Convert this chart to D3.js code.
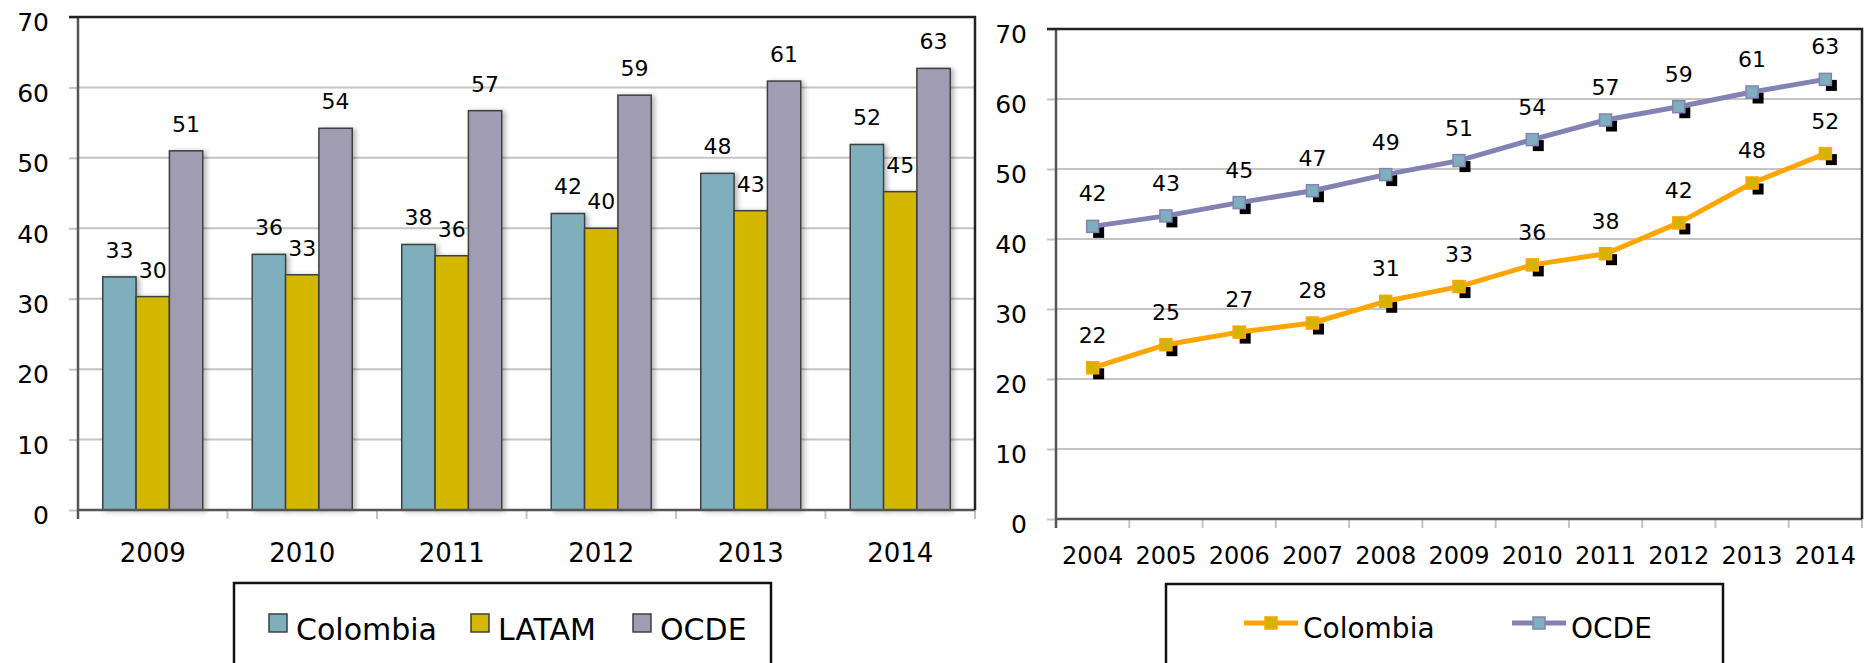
<!DOCTYPE html>
<html><head><meta charset="utf-8">
<script src="https://cdn.jsdelivr.net/npm/d3@7"></script>
<style>
html,body{margin:0;padding:0;background:#fff;}
svg{display:block;font-family:"DejaVu Sans",sans-serif;}
</style></head>
<body>
<svg id="chart" width="1868" height="663"></svg>
<script>
// ---- data ----
const barYears = ["2009","2010","2011","2012","2013","2014"];
const barSeries = ["Colombia","LATAM","OCDE"];
const barColombia = [33.1, 36.3, 37.7, 42.1, 47.8, 51.9];
const barLatam    = [30.3, 33.4, 36.1, 40.0, 42.5, 45.2];
const barOcde     = [51.0, 54.2, 56.7, 58.9, 60.9, 62.7];

const lineYears = ["2004","2005","2006","2007","2008","2009","2010","2011","2012","2013","2014"];
const lineSeries = ["Colombia","OCDE"];
const lineColombia = [21.6, 24.9, 26.7, 28.0, 31.1, 33.2, 36.3, 37.9, 42.3, 48.0, 52.2];
const lineOcde     = [41.8, 43.3, 45.2, 46.9, 49.2, 51.2, 54.2, 57.0, 58.9, 61.0, 62.8];

const yTicks = [0,10,20,30,40,50,60,70];

// ---- styles ----
const barColors = {Colombia:"#7FAFBD", LATAM:"#D4B800", OCDE:"#A09CB2"};
const lineColors = {Colombia:"#FFA500", OCDE:"#8383B3"};
const markerFill = {Colombia:"#D4B400", OCDE:"#7FAFBD"};
const gridColor = "#C4C4C4";

const svg = d3.select("#chart");
const defs = svg.append("defs");
const f = defs.append("filter").attr("id","shadow").attr("x","-20%").attr("y","-5%").attr("width","150%").attr("height","115%");
f.append("feDropShadow").attr("dx",3).attr("dy",1).attr("stdDeviation",2.5).attr("flood-color","#000").attr("flood-opacity",0.28);

// ================= LEFT: grouped bars =================
{
  const L = {x0:78, x1:975, y0:17, y1:510};
  const y = d3.scaleLinear().domain([0,70]).range([L.y1, L.y0]);
  const x0 = d3.scaleBand().domain(barYears).range([L.x0, L.x1]);
  const bw = x0.bandwidth();
  const groupW = 100;
  const x1 = d3.scaleBand().domain(barSeries).range([(bw-groupW)/2, (bw+groupW)/2]);
  const g = svg.append("g");

  g.append("g").selectAll("line").data(yTicks.filter(t=>t>0 && t<70)).join("line")
    .attr("x1",L.x0).attr("x2",L.x1).attr("y1",d=>y(d)).attr("y2",d=>y(d))
    .attr("stroke",gridColor).attr("stroke-width",2);

  const ya = g.append("g").attr("transform",`translate(${L.x0},0)`)
    .call(d3.axisLeft(y).tickValues(yTicks).tickSize(9).tickPadding(20).tickFormat(d3.format("d")));
  ya.select(".domain").remove();
  ya.selectAll(".tick line").attr("stroke",gridColor).attr("stroke-width",2);
  ya.selectAll(".tick text").attr("font-size",25).attr("fill","#000").attr("font-family","DejaVu Sans").attr("dy","0.55em");

  const xa = g.append("g").attr("transform",`translate(0,${L.y1})`)
    .call(d3.axisBottom(x0).tickSize(0).tickPadding(34));
  xa.select(".domain").remove();
  xa.selectAll(".tick text").attr("font-size",26).attr("fill","#000").attr("font-family","DejaVu Sans");
  g.append("g").selectAll("line").data(barYears.concat(["end"])).join("line")
    .attr("x1",(d,i)=>L.x0+i*bw).attr("x2",(d,i)=>L.x0+i*bw)
    .attr("y1",L.y1).attr("y2",L.y1+9).attr("stroke",gridColor).attr("stroke-width",2);

  const rows = barYears.map((yr,i)=>({year:yr, vals:[
    {s:"Colombia", v:barColombia[i]},{s:"LATAM", v:barLatam[i]},{s:"OCDE", v:barOcde[i]}]}));
  const grp = g.append("g").selectAll("g").data(rows).join("g")
    .attr("transform",d=>`translate(${x0(d.year)},0)`);
  grp.selectAll("rect").data(d=>d.vals).join("rect")
    .attr("x",d=>x1(d.s)).attr("width",x1.bandwidth())
    .attr("y",d=>y(d.v)).attr("height",d=>y(0)-y(d.v))
    .attr("fill",d=>barColors[d.s]).attr("stroke","#3a4040").attr("stroke-width",1.5)
    .attr("filter","url(#shadow)");
  grp.selectAll("text").data(d=>d.vals).join("text")
    .attr("x",d=>x1(d.s)+x1.bandwidth()/2).attr("y",d=>y(d.v)-19)
    .attr("text-anchor","middle").attr("font-size",22).attr("fill","#000")
    .text(d=>Math.round(d.v));

  g.append("line").attr("x1",L.x0).attr("x2",L.x0).attr("y1",L.y0).attr("y2",L.y1+9).attr("stroke","#555").attr("stroke-width",2.5);
  g.append("line").attr("x1",L.x0).attr("x2",L.x1).attr("y1",L.y1).attr("y2",L.y1).attr("stroke","#555").attr("stroke-width",2.5);
  g.append("path").attr("d",`M${L.x0-9},${L.y0}H${L.x1}V${L.y1}`).attr("fill","none").attr("stroke","#222").attr("stroke-width",2.5);

  const lg = g.append("g");
  lg.append("rect").attr("x",234).attr("y",583).attr("width",537).attr("height",90)
    .attr("fill","#fff").attr("stroke","#111").attr("stroke-width",2.5);
  const legX = {Colombia:269, LATAM:471, OCDE:633};
  barSeries.forEach(s=>{
    lg.append("rect").attr("x",legX[s]).attr("y",614).attr("width",18).attr("height",18)
      .attr("fill",barColors[s]).attr("stroke","#3a4040").attr("stroke-width",1.5);
    lg.append("text").attr("x",legX[s]+27).attr("y",640).attr("font-size",30).attr("fill","#000").text(s);
  });
}

// ================= RIGHT: lines =================
{
  const R = {x0:1056, x1:1862, y0:29, y1:519};
  const y = d3.scaleLinear().domain([0,70]).range([R.y1, R.y0]);
  const x = d3.scaleBand().domain(lineYears).range([R.x0, R.x1]);
  const bw = x.bandwidth();
  const cx = d => x(d) + bw/2;
  const g = svg.append("g");

  g.append("g").selectAll("line").data(yTicks.filter(t=>t>0 && t<70)).join("line")
    .attr("x1",R.x0).attr("x2",R.x1).attr("y1",d=>y(d)).attr("y2",d=>y(d))
    .attr("stroke",gridColor).attr("stroke-width",2);

  const ya = g.append("g").attr("transform",`translate(${R.x0},0)`)
    .call(d3.axisLeft(y).tickValues(yTicks).tickSize(9).tickPadding(20).tickFormat(d3.format("d")));
  ya.select(".domain").remove();
  ya.selectAll(".tick line").attr("stroke",gridColor).attr("stroke-width",2);
  ya.selectAll(".tick text").attr("font-size",25).attr("fill","#000").attr("font-family","DejaVu Sans").attr("dy","0.55em");

  const xa = g.append("g").attr("transform",`translate(0,${R.y1})`)
    .call(d3.axisBottom(x).tickSize(0).tickPadding(28));
  xa.select(".domain").remove();
  xa.selectAll(".tick text").attr("font-size",24).attr("fill","#000").attr("font-family","DejaVu Sans");
  g.append("g").selectAll("line").data(lineYears.concat(["end"])).join("line")
    .attr("x1",(d,i)=>R.x0+i*bw).attr("x2",(d,i)=>R.x0+i*bw)
    .attr("y1",R.y1).attr("y2",R.y1+9).attr("stroke",gridColor).attr("stroke-width",2);

  g.append("line").attr("x1",R.x0).attr("x2",R.x0).attr("y1",R.y0).attr("y2",R.y1+9).attr("stroke","#555").attr("stroke-width",2.5);
  g.append("line").attr("x1",R.x0).attr("x2",R.x1).attr("y1",R.y1).attr("y2",R.y1).attr("stroke","#555").attr("stroke-width",2.5);
  g.append("path").attr("d",`M${R.x0-9},${R.y0}H${R.x1}V${R.y1}`).attr("fill","none").attr("stroke","#222").attr("stroke-width",2.5);

  const seriesData = {
    Colombia: lineYears.map((yr,i)=>({year:yr, v:lineColombia[i]})),
    OCDE: lineYears.map((yr,i)=>({year:yr, v:lineOcde[i]}))
  };
  const line = d3.line().x(d=>cx(d.year)).y(d=>y(d.v));
  lineSeries.forEach(s=>{
    const data = seriesData[s];
    const sg = g.append("g");
    sg.selectAll("rect.sh").data(data).join("rect").attr("class","sh")
      .attr("x",d=>cx(d.year)+0.5).attr("y",d=>y(d.v)+0.5).attr("width",11).attr("height",11).attr("fill","#000");
    sg.append("path").datum(data).attr("d",line).attr("fill","none")
      .attr("stroke",lineColors[s]).attr("stroke-width",5).attr("stroke-linejoin","round");
    sg.selectAll("rect.mk").data(data).join("rect").attr("class","mk")
      .attr("x",d=>cx(d.year)-6).attr("y",d=>y(d.v)-6).attr("width",12).attr("height",12)
      .attr("fill",markerFill[s]).attr("stroke",lineColors[s]).attr("stroke-width",1.5);
    sg.selectAll("text").data(data).join("text")
      .attr("x",d=>cx(d.year)).attr("y",d=>y(d.v)-25)
      .attr("text-anchor","middle").attr("font-size",22).attr("fill","#000")
      .text(d=>Math.round(d.v));
  });

  const lg = g.append("g");
  lg.append("rect").attr("x",1166).attr("y",584).attr("width",557).attr("height",90)
    .attr("fill","#fff").attr("stroke","#111").attr("stroke-width",2.5);
  const legX = {Colombia:1244, OCDE:1512};
  lineSeries.forEach(s=>{
    const lx = legX[s], ly = 623;
    lg.append("line").attr("x1",lx).attr("x2",lx+54).attr("y1",ly).attr("y2",ly)
      .attr("stroke",lineColors[s]).attr("stroke-width",5);
    lg.append("rect").attr("x",lx+27-6).attr("y",ly-6).attr("width",12).attr("height",12)
      .attr("fill",markerFill[s]).attr("stroke",lineColors[s]).attr("stroke-width",1.5);
    lg.append("text").attr("x",lx+59).attr("y",ly+15).attr("font-size",28).attr("fill","#000").text(s);
  });
}
</script>
</body></html>
